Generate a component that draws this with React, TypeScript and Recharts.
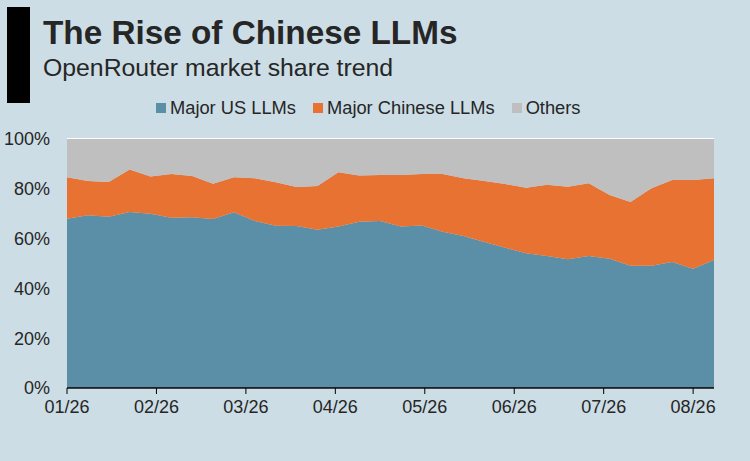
import { AreaChart, Area, XAxis, YAxis, CartesianGrid } from "recharts";

// weekly share (%), 32 weeks starting 01/26
const usShare = [
  68.0, 69.4, 68.8, 70.7, 70.0, 68.4, 68.6, 67.9, 70.6, 67.1, 65.2, 65.1, 63.6, 64.9, 66.8, 67.1,
  64.9, 65.3, 62.8, 61.0, 58.6, 56.3, 54.1, 53.0, 51.7, 53.0, 51.9, 49.1, 49.1, 50.6, 47.9, 51.4,
];
const cnShare = [
  16.6, 13.7, 13.9, 17.1, 14.9, 17.5, 16.5, 14.1, 14.0, 17.1, 17.4, 15.6, 17.5, 21.7, 18.5, 18.4,
  20.6, 20.6, 23.1, 23.2, 24.5, 25.6, 26.3, 28.6, 29.1, 29.2, 25.6, 25.6, 31.1, 32.9, 35.6, 32.8,
];
const otherShare = [
  15.4, 16.9, 17.3, 12.2, 15.1, 14.1, 14.9, 18.0, 15.4, 15.8, 17.4, 19.3, 18.9, 13.4, 14.7, 14.5,
  14.5, 14.1, 14.1, 15.8, 16.9, 18.1, 19.6, 18.4, 19.2, 17.8, 22.5, 25.3, 19.8, 16.5, 16.5, 15.8,
];
const monthLabels = ["01/26", "02/26", "03/26", "04/26", "05/26", "06/26", "07/26", "08/26"];
const yTicks = [0, 20, 40, 60, 80, 100];

const series = [
  { key: "us", name: "Major US LLMs", color: "#5b8fa8" },
  { key: "cn", name: "Major Chinese LLMs", color: "#e87232" },
  { key: "other", name: "Others", color: "#bfbfbf" },
];

const data = usShare.map((v, i) => ({
  week: i,
  us: v,
  cn: cnShare[i],
  other: otherShare[i],
}));

// ticks every 30 days, in week units
const xTicks = monthLabels.map((_, i) => (i * 30) / 7);

const BG = "#ccdde5";
const FONT = "'Liberation Sans', Arial, sans-serif";

export default function App() {
  return (
    <div
      style={{
        position: "absolute",
        left: 0,
        top: 0,
        width: 750,
        height: 461,
        background: BG,
        fontFamily: FONT,
        overflow: "hidden",
      }}
    >
      <div style={{ position: "absolute", left: 7, top: 7, width: 23, height: 96, background: "#000" }} />
      <div
        style={{
          position: "absolute",
          left: 43,
          top: 14,
          fontSize: 33.3,
          fontWeight: "bold",
          color: "#262626",
          whiteSpace: "nowrap",
        }}
      >
        The Rise of Chinese LLMs
      </div>
      <div
        style={{
          position: "absolute",
          left: 43,
          top: 54,
          fontSize: 24.8,
          color: "#262626",
          whiteSpace: "nowrap",
        }}
      >
        OpenRouter market share trend
      </div>
      <div
        style={{
          position: "absolute",
          left: 156,
          top: 97,
          display: "flex",
          alignItems: "center",
          fontSize: 18.3,
          color: "#262626",
          whiteSpace: "nowrap",
        }}
      >
        {series.map((s) => (
          <div key={s.key} style={{ display: "flex", alignItems: "center", marginRight: 17 }}>
            <div style={{ width: 10, height: 10, background: s.color, marginRight: 4 }} />
            <span>{s.name}</span>
          </div>
        ))}
      </div>
      <div style={{ position: "absolute", left: 0, top: 0 }}>
        <AreaChart
          width={750}
          height={461}
          data={data}
          margin={{ top: 139, right: 36, left: 0, bottom: 0 }}
        >
          <CartesianGrid horizontal={true} vertical={false} stroke="#ffffff" strokeWidth={2} />
          <XAxis
            dataKey="week"
            type="number"
            domain={[0, 31]}
            ticks={xTicks}
            tickFormatter={(v, i) => monthLabels[i]}
            interval={0}
            height={73}
            axisLine={{ stroke: "#000", strokeWidth: 1.5 }}
            tickLine={{ stroke: "#000" }}
            tickSize={6}
            tickMargin={6}
            tick={{ fill: "#262626", fontSize: 18, fontFamily: FONT }}
          />
          <YAxis
            domain={[0, 100]}
            ticks={yTicks}
            tickFormatter={(v) => `${v}%`}
            width={67}
            axisLine={false}
            tickLine={false}
            tickSize={0}
            tickMargin={17}
            tick={{ fill: "#262626", fontSize: 18, fontFamily: FONT }}
          />
          {series.map((s) => (
            <Area
              key={s.key}
              dataKey={s.key}
              name={s.name}
              stackId="1"
              type="linear"
              fill={s.color}
              fillOpacity={1}
              stroke="none"
              isAnimationActive={false}
            />
          ))}
        </AreaChart>
      </div>
    </div>
  );
}
